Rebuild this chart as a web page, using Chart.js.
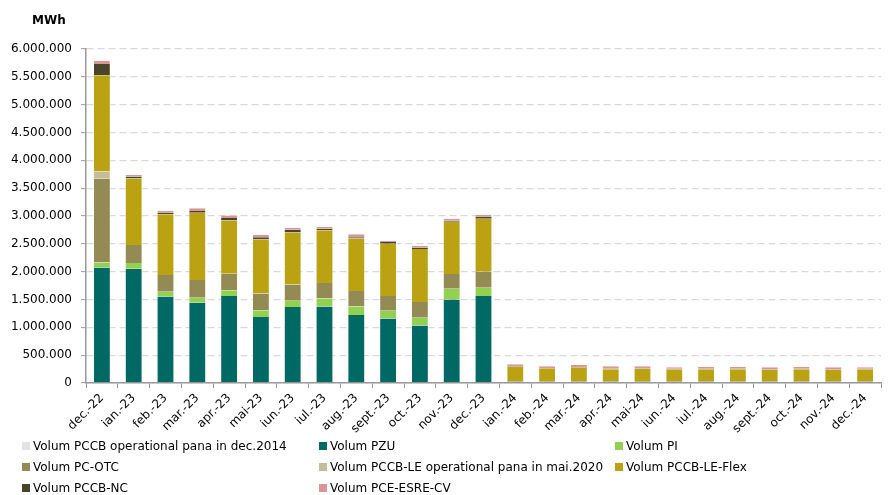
<!DOCTYPE html>
<html>
<head>
<meta charset="utf-8">
<script src="https://cdn.jsdelivr.net/npm/chart.js@4"></script>
<style>
  body { margin: 0; background: #fff; font-family: "DejaVu Sans", sans-serif; }
  #wrap { position: relative; width: 889px; height: 495px; }
  #chart-box { position: absolute; left: 0; top: 0; width: 889px; height: 440px; }
  #unit { position: absolute; left: 32px; top: 13px; font-size: 12px; font-weight: bold; color: #000; }
  #legend { position: absolute; left: 22px; top: 438px; width: 880px; display: grid;
            grid-template-columns: 297px 296px 260px; row-gap: 5px; font-size: 12px; color: #000; }
  .item { display: flex; align-items: center; height: 16px; white-space: nowrap; }
  .sw { width: 8px; height: 8px; margin-right: 3px; flex: none; }
</style>
</head>
<body>
<div id="wrap">
  <div id="chart-box"><canvas id="c"></canvas></div>
  <div id="unit">MWh</div>
  <div id="legend"></div>
</div>
<script>
// categories
const months = ['dec.-22', 'ian.-23', 'feb.-23', 'mar.-23', 'apr.-23', 'mai-23', 'iun.-23', 'iul.-23',
  'aug.-23', 'sept.-23', 'oct.-23', 'nov.-23', 'dec.-23', 'ian.-24', 'feb.-24', 'mar.-24', 'apr.-24',
  'mai-24', 'iun.-24', 'iul.-24', 'aug.-24', 'sept.-24', 'oct.-24', 'nov.-24', 'dec.-24'];

// series values, MWh
const volPccb2014 = [0, 0, 0, 0, 0, 0, 0, 0, 0, 0, 0, 0, 0, 0, 0, 0, 0, 0, 0, 0, 0, 0, 0, 0, 0];
const volPzu = [2077000, 2053000, 1556000, 1442000, 1563000, 1186000, 1365000, 1376000, 1221000, 1160000,
  1035000, 1502000, 1563000, 0, 0, 0, 0, 0, 0, 0, 0, 0, 0, 0, 0];
const volPi = [89000, 103000, 84000, 90000, 101000, 119000, 113000, 144000, 155000, 140000,
  138000, 192000, 149000, 0, 0, 0, 0, 0, 0, 0, 0, 0, 0, 0, 0];
const volPcOtc = [1504000, 324000, 300000, 318000, 299000, 305000, 292000, 276000, 277000, 263000,
  282000, 264000, 288000, 30000, 30000, 30000, 30000, 30000, 30000, 30000, 30000, 30000, 30000, 30000, 30000];
const volPccbLe2020 = [130000, 0, 0, 0, 0, 0, 0, 0, 0, 0, 0, 0, 0, 0, 0, 0, 0, 0, 0, 0, 0, 0, 0, 0, 0];
const volPccbLeFlex = [1730000, 1195000, 1090000, 1210000, 957000, 970000, 935000, 946000, 945000, 939000,
  952000, 940000, 950000, 257000, 233000, 251000, 216000, 227000, 216000, 216000, 216000, 210000, 216000, 210000, 216000];
const volPccbNc = [200000, 35000, 35000, 30000, 44000, 40000, 49000, 28000, 22000, 31000,
  29000, 22000, 43000, 8000, 8000, 8000, 10000, 8000, 8000, 8000, 8000, 8000, 8000, 8000, 8000];
const volPceEsre = [60000, 26000, 25000, 47000, 46000, 44000, 36000, 38000, 50000, 17000,
  30000, 30000, 30000, 40000, 29000, 34000, 44000, 35000, 27000, 39000, 39000, 33000, 39000, 33000, 27000];

const seriesNames = ['Volum PCCB operational pana in dec.2014', 'Volum PZU', 'Volum PI', 'Volum PC-OTC',
  'Volum PCCB-LE operational pana in mai.2020', 'Volum PCCB-LE-Flex', 'Volum PCCB-NC', 'Volum PCE-ESRE-CV'];
const seriesData = [volPccb2014, volPzu, volPi, volPcOtc, volPccbLe2020, volPccbLeFlex, volPccbNc, volPceEsre];
const seriesColors = ['#e3e3e3', '#006964', '#92d050', '#948a54', '#c4bd97', '#bba213', '#4a452a', '#da9694'];

// y axis ticks
const yMax = 6000000;
const yStep = 500000;

const fmt = v => Math.round(v).toString().replace(/\B(?=(\d{3})+(?!\d))/g, '.');

const datasets = seriesNames.map((name, i) => ({
  label: name,
  data: seriesData[i],
  backgroundColor: seriesColors[i],
  borderColor: 'rgba(255,255,255,0.4)',
  borderWidth: { left: 1, right: 1, top: 0, bottom: 0 },
  borderSkipped: false,
  barPercentage: 0.56,
  categoryPercentage: 1
}));

new Chart(document.getElementById('c'), {
  type: 'bar',
  data: { labels: months, datasets },
  options: {
    responsive: true,
    maintainAspectRatio: false,
    animation: false,
    layout: { padding: { top: 49, right: 8, left: 0, bottom: 0 } },
    plugins: { legend: { display: false }, tooltip: { enabled: false } },
    scales: {
      x: {
        stacked: true,
        afterFit: s => { s.height = 57; },
        grid: { display: true, drawOnChartArea: false, offset: true, tickLength: 5, tickColor: '#999', tickWidth: 1 },
        border: { color: '#999', width: 1.5 },
        ticks: { autoSkip: false, minRotation: 45, maxRotation: 45, color: '#000', padding: 3,
                 font: { family: 'DejaVu Sans', size: 12 } }
      },
      y: {
        stacked: true,
        min: 0,
        max: yMax,
        afterFit: s => { s.width = 86; },
        grid: { color: '#d9d9d9', lineWidth: 1.3, tickLength: 5, tickColor: '#999', tickWidth: 1 },
        border: { color: '#999', width: 1.5, dash: [7, 4] },
        ticks: { stepSize: yStep, color: '#000', padding: 9, callback: v => fmt(v),
                 font: { family: 'DejaVu Sans', size: 12 } }
      }
    }
  }
});

const legend = document.getElementById('legend');
seriesNames.forEach((name, i) => {
  const item = document.createElement('div');
  item.className = 'item';
  item.innerHTML = '<span class="sw" style="background:' + seriesColors[i] + '"></span>' + name;
  legend.appendChild(item);
});
</script>
</body>
</html>
